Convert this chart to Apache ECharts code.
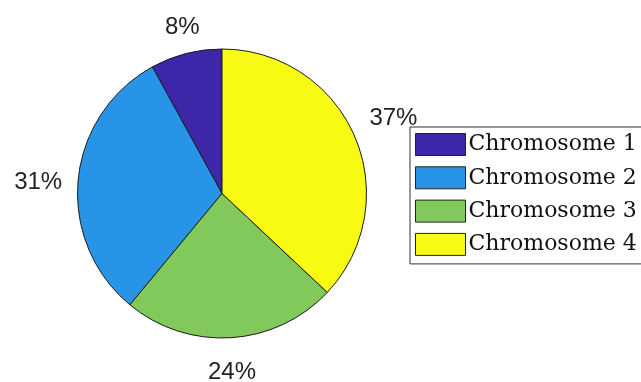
<!DOCTYPE html>
<html>
<head>
<meta charset="utf-8">
<script src="https://cdn.jsdelivr.net/npm/echarts@6/dist/echarts.min.js"></script>
<style>html,body{margin:0;padding:0;background:#fff}#c{width:641px;height:382px}</style>
</head>
<body>
<div id="c"></div>
<script>
const categories = ['Chromosome 1', 'Chromosome 2', 'Chromosome 3', 'Chromosome 4'];
const values = [8, 31, 24, 37];
const colors = ['#3e26a8', '#2894e8', '#80c95a', '#f8fa14'];
const labelAlign = ['center', 'right', 'center', 'left'];
const labelVAlign = ['bottom', 'middle', 'top', 'bottom'];
const labelShiftX = [5, 4, -5, -4];
const labelShiftY = [0, 4, 8, 0];

const chart = echarts.init(document.getElementById('c'), null, {renderer: 'canvas'});
chart.setOption({
  animation: false,
  backgroundColor: '#fff',
  legend: {
    orient: 'vertical',
    left: 410,
    top: 127,
    padding: [6, 5, 8, 5],
    itemWidth: 50,
    itemHeight: 22,
    itemGap: 10.3,
    borderColor: '#333',
    borderWidth: 1,
    icon: 'rect',
    itemStyle: {borderColor: '#222', borderWidth: 1},
    textStyle: {fontFamily: 'DejaVu Serif', fontSize: 22, color: '#111', lineHeight: 22, padding: [0, 0, 0, -2]},
    data: categories
  },
  series: [{
    type: 'pie',
    center: [222, 193.5],
    radius: [0, 144.5],
    startAngle: 90,
    clockwise: false,
    avoidLabelOverlap: false,
    color: colors,
    itemStyle: {borderColor: '#1a1a1a', borderWidth: 1},
    emphasis: {disabled: true},
    label: {
      show: true,
      position: 'outside',
      formatter: '{c}%',
      fontFamily: 'Liberation Sans',
      fontSize: 24,
      color: '#222',
      padding: 0
    },
    labelLine: {show: false, length: 15, length2: 0},
    labelLayout: function (p) {
      const i = p.dataIndex;
      return {align: labelAlign[i], verticalAlign: labelVAlign[i], dx: labelShiftX[i], dy: labelShiftY[i]};
    },
    data: categories.map((n, i) => ({name: n, value: values[i]}))
  }]
});
</script>
</body>
</html>
